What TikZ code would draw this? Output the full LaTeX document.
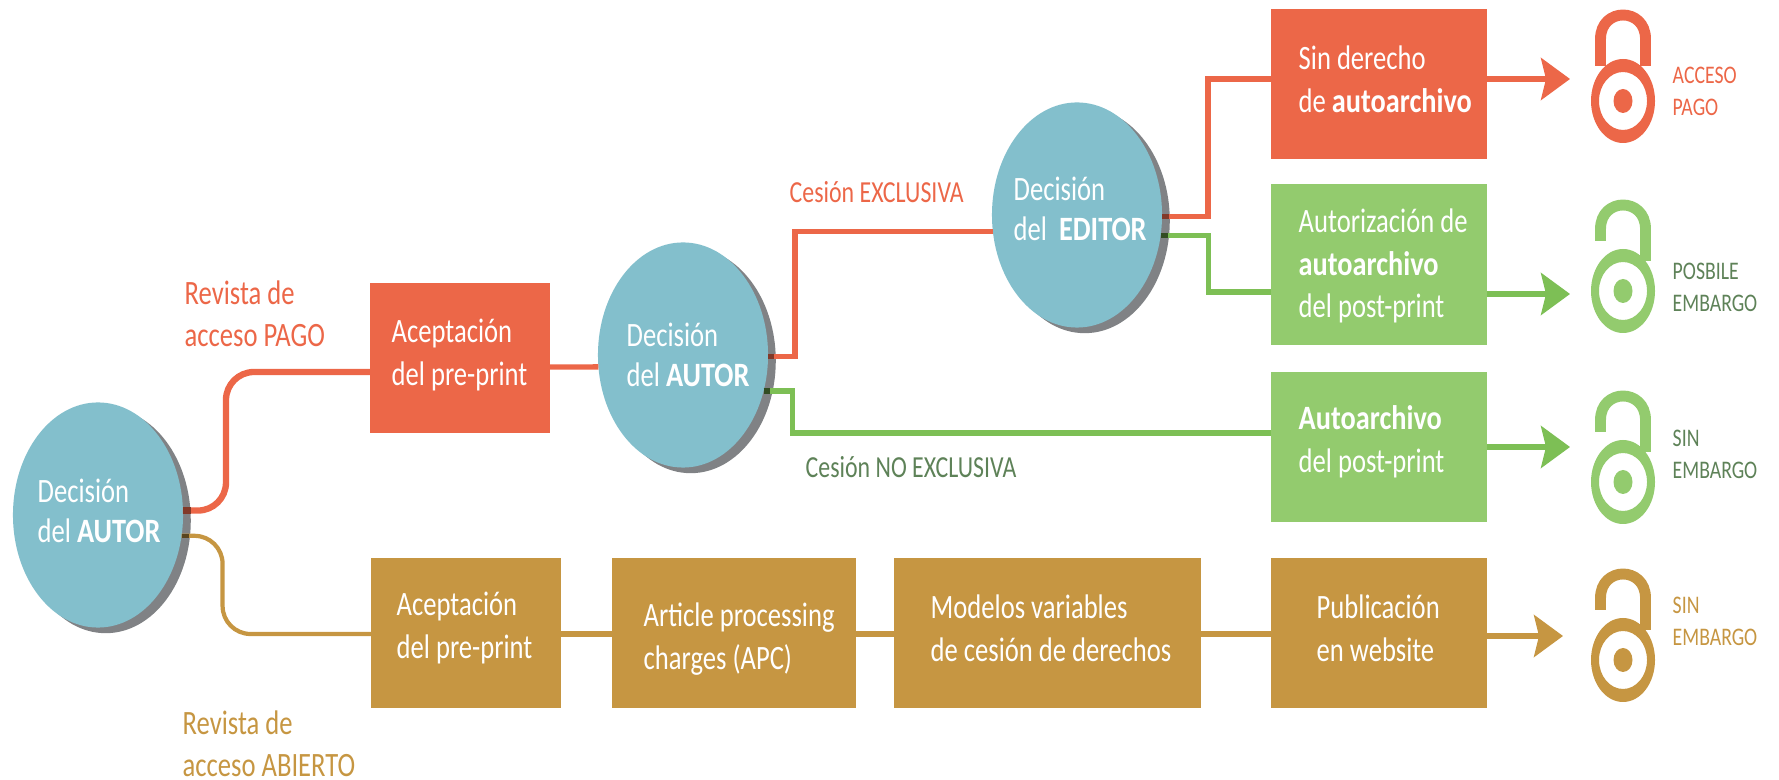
\documentclass[tikz,border=0pt]{standalone}
\usepackage{fontspec}
\setmainfont[FakeStretch=0.78,BoldFeatures={FakeStretch=0.83}]{Carlito}
\usetikzlibrary{arrows.meta, positioning, shapes.geometric, shadows}

\definecolor{orangered}{HTML}{EC6748}
\definecolor{leafgreen}{HTML}{93CB6E}
\definecolor{linegreen}{HTML}{7DBF55}
\definecolor{ochre}{HTML}{C69642}
\definecolor{teal}{HTML}{83BFCC}
\definecolor{shadowgray}{HTML}{808285}
\definecolor{deepgreen}{HTML}{5E8258}

\begin{document}
\begin{tikzpicture}[
			x=0.01cm, y=-0.01cm,
			decision/.style={ellipse, fill=teal, minimum width=1.7cm, minimum height=2.25cm, inner sep=0pt, outer sep=0pt,
				drop shadow={shadow xshift=2.2pt, shadow yshift=-1.6pt, fill=shadowgray, opacity=1}},
			decisiontext/.style={anchor=west, text=white, align=left, inner sep=0pt, font=\fontsize{9.7}{11.4}\selectfont},
			stage/.style={fill=#1, inner sep=0pt, outer sep=0pt},
			stagetext/.style={anchor=west, text=white, align=left, inner sep=0pt, font=\fontsize{9.7}{12.2}\selectfont},
			branch/.style={anchor=west, text=#1, align=left, inner sep=0pt, font=\fontsize{8.7}{11.8}\selectfont},
			journal/.style={anchor=west, text=#1, align=left, inner sep=0pt, font=\fontsize{9.7}{11.8}\selectfont},
			status/.style={anchor=west, text=#1, align=left, inner sep=0pt, font=\fontsize{7.2}{9.1}\selectfont},
			link/.style={draw=#1, line width=1.5pt},
			tip/.style={-{Stealth[length=0.29cm, width=0.42cm, inset=0.05cm]}},
			closedlock/.pic={
				\fill[#1, even odd rule] (0,0) ellipse [x radius=32, y radius=42] (0,0) ellipse [x radius=24, y radius=29];
				\fill[#1] (0,0) ellipse [x radius=9.5, y radius=12];
				\draw[#1, line width=3.1pt] (-22.5,-35) -- (-22.5,-62) .. controls (-22.5,-94) and (22.5,-94) .. (22.5,-62) -- (22.5,-35);
			},
			openlock/.pic={
				\fill[#1, even odd rule] (0,0) ellipse [x radius=32, y radius=42] (0,0) ellipse [x radius=24, y radius=29];
				\fill[#1] (0,0) ellipse [x radius=9.5, y radius=12];
				\draw[#1, line width=3.1pt] (-22.5,-50) -- (-22.5,-62) .. controls (-22.5,-94) and (22.5,-94) .. (22.5,-62) -- (22.5,-30);
			}
			]
			\useasboundingbox (0,0) rectangle (1779,780);
			
			% Decisions
			\node[decision] (autor1) at (98,515) {};
			\node[decision] (autor2) at (683,355) {};
			\node[decision] (editor) at (1077,215) {};
			\node[decisiontext] (autor1text) at (37,511) {Decisión\\del \textbf{AUTOR}};
			\node[decisiontext] (autor2text) at (626,355) {Decisión\\del \textbf{AUTOR}};
			\node[decisiontext] (editortext) at (1013,209) {Decisión\\del\ \ \textbf{EDITOR}};
			
			% Boxes
			\node[stage=orangered, minimum width=1.79cm, minimum height=1.5cm] (preprint) at (460,358) {};
			\node[stage=orangered, minimum width=2.16cm, minimum height=1.5cm] (sinderecho) at (1379,84) {};
			\node[stage=leafgreen, minimum width=2.16cm, minimum height=1.61cm] (autorizacion) at (1379,264.5) {};
			\node[stage=leafgreen, minimum width=2.16cm, minimum height=1.5cm] (autoarchivo) at (1379,447) {};
			\node[stage=ochre, minimum width=1.9cm, minimum height=1.5cm] (aceptacion) at (466,633) {};
			\node[stage=ochre, minimum width=2.44cm, minimum height=1.5cm] (apc) at (734,633) {};
			\node[stage=ochre, minimum width=3.07cm, minimum height=1.5cm] (modelos) at (1047.5,633) {};
			\node[stage=ochre, minimum width=2.16cm, minimum height=1.5cm] (publicacion) at (1379,633) {};
			
			% Box texts
			\node[stagetext] (preprinttext) at (391,355) {Aceptación\\del pre-print};
			\node[stagetext] (sinderechotext) at (1298,79) {Sin derecho\\de \textbf{autoarchivo}};
			\node[stagetext] (autorizaciontext) at (1298,266) {Autorización de\\\textbf{autoarchivo}\\del post-print};
			\node[stagetext] (autoarchivotext) at (1298,442) {\textbf{Autoarchivo}\\del post-print};
			\node[stagetext] (aceptaciontext) at (396,628) {Aceptación\\del pre-print};
			\node[stagetext] (apctext) at (643,639) {Article processing\\charges (APC)};
			\node[stagetext] (modelostext) at (930,628) {Modelos variables\\de cesión de derechos};
			\node[stagetext] (publicaciontext) at (1316,628) {Publicación\\en website};
			
			% Branch labels
			\node[journal=orangered] (pagolabel) at (184,314) {Revista de\\acceso PAGO};
			\node[journal=ochre] (abiertolabel) at (182,744) {Revista de\\acceso ABIERTO};
			\node[branch=orangered] (exclusiva) at (789,192) {Cesión EXCLUSIVA};
			\node[branch=deepgreen] (noexclusiva) at (805,467) {Cesión NO EXCLUSIVA};
			
			% Arrow ends
			\coordinate (tipA) at (1570,79);
			\coordinate (tipB) at (1570,294);
			\coordinate (tipC) at (1570,447);
			\coordinate (tipD) at (1563,636);
			
			% Connectors
			\draw[link=orangered, line width=1.8pt, rounded corners=0.28cm] (autor1.3) -- ++(43,0) |- (preprint.west |- 0,372);
			\draw[link=ochre, line width=1.2pt, rounded corners=0.28cm] (autor1.-14) -- ++(41,0) |- (aceptacion.west |- 0,634);
			\draw[link=orangered] (preprint.east |- 0,367) -- (autor2.188);
			\draw[link=orangered] (autor2.-1.5) -- ++(27,0) |- (editor.191.5);
			\draw[link=linegreen] (autor2.-24) -- ++(29,0) |- (autoarchivo.west |- 0,433);
			\draw[link=orangered] (editor.-1) -- ++(46,0) |- (sinderecho.west |- tipA);
			\draw[link=linegreen] (editor.-14) -- ++(48,0) |- (autorizacion.west |- 0,292);
			\draw[link=ochre] (aceptacion.east |- 0,634) -- (apc.west |- 0,634);
			\draw[link=ochre] (apc.east |- 0,634) -- (modelos.west |- 0,634);
			\draw[link=ochre] (modelos.east |- 0,634) -- (publicacion.west |- 0,634);
			
			% Parts over the shadows
			\draw[orangered!55!black, line width=1.8pt] (autor1.3) -- ++(8,0);
			\draw[ochre!45!black, line width=1.2pt] (autor1.-14) -- ++(7,0);
			\draw[orangered!55!black, line width=1.5pt] (autor2.-1.5) -- ++(6,0);
			\draw[linegreen!40!black, line width=1.5pt] (autor2.-24) -- ++(6,0);
			\draw[orangered!55!black, line width=1.5pt] (editor.-1) -- ++(7,0);
			\draw[linegreen!40!black, line width=1.5pt] (editor.-14) -- ++(7,0);
			
			% Arrows
			\draw[link=orangered, tip] (sinderecho.east |- tipA) -- (tipA);
			\draw[link=linegreen, tip] (autorizacion.east |- tipB) -- (tipB);
			\draw[link=linegreen, tip] (autoarchivo.east |- tipC) -- (tipC);
			\draw[link=ochre, tip] (publicacion.east |- tipD) -- (tipD);
			
			% Locks and their labels
			\pic at (1623,101) {closedlock=orangered};
			\pic at (1623,291) {openlock=leafgreen};
			\pic at (1623,482) {openlock=leafgreen};
			\pic at (1623,660) {openlock=ochre};
			\node[status=orangered] (pago) at (1672,91) {ACCESO\\PAGO};
			\node[status=deepgreen] (posible) at (1672,287) {POSBILE\\EMBARGO};
			\node[status=deepgreen] (sin1) at (1672,454) {SIN\\EMBARGO};
			\node[status=ochre] (sin2) at (1672,621) {SIN\\EMBARGO};
\end{tikzpicture}
\end{document}
